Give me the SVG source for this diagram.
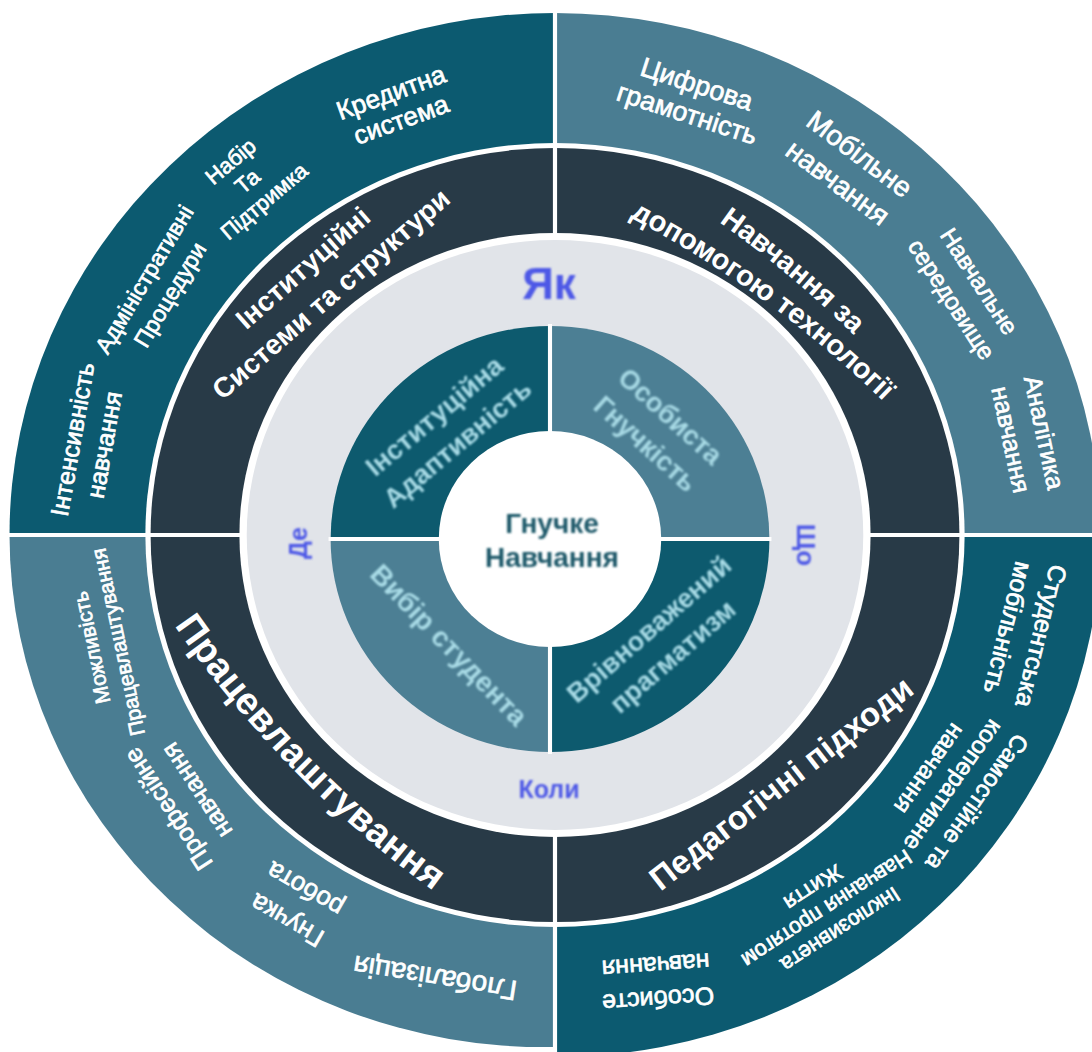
<svg xmlns="http://www.w3.org/2000/svg" width="1092" height="1052" viewBox="0 0 1092 1052">
  <defs>
    <style>
      text { font-family: "Liberation Sans", Arial, sans-serif; dominant-baseline: central; text-anchor: middle; }
      .lbl { fill: #ffffff; stroke: #ffffff; stroke-width: 0.7; font-weight: 400; }
      .band { fill: #ffffff; font-weight: 700; }
      .core { fill: #a9dbe6; font-weight: 700; }
      .ask { fill: #4d58e6; font-weight: 700; }
      .hub { fill: #1e5869; font-weight: 700; }
      .teal { fill: #0c5a70; }
      .slate { fill: #4a7d92; }
      .core-teal { fill: #0d5a6e; }
      .core-slate { fill: #4c7f94; }
    </style>
    <!-- gently curved baselines, local coordinates centred on the label -->
    <path id="arcTop" d="M-320,47.6 A1100,1100 0 0 1 320,47.6"/>
    <path id="arcBot" d="M-320,-47.6 A1100,1100 0 0 0 320,-47.6"/>
    <filter id="soft" x="-20%" y="-20%" width="140%" height="140%">
      <feGaussianBlur stdDeviation="0.8"/>
    </filter>
  </defs>

  <rect width="1092" height="1052" fill="#ffffff"/>

  <!-- outer rings: detail ring, theme ring, question ring -->
  <g id="rings" transform="translate(555,535) scale(1.045,1)">
    <g id="outer-ring">
      <path id="outer-tl" class="teal" d="M0,0 H-522 A522,522 0 0 1 0,-522 Z"/>
      <path id="outer-tr" class="slate" d="M0,0 V-522 A522,522 0 0 1 522,0 Z"/>
      <path id="outer-br" class="teal" d="M0,0 H522 A522,522 0 0 1 0,522 Z"/>
      <path id="outer-bl" class="slate" d="M0,0 V512 A512,512 0 0 1 -522,0 Z"/>
    </g>
    <circle r="392" fill="#ffffff"/>
    <circle id="theme-ring" r="387" fill="#283a47"/>
    <path d="M0,-530 V530 M-530,0 H530" stroke="#ffffff" stroke-width="4"/>
    <circle r="302" fill="#ffffff"/>
    <circle id="question-ring" r="295" fill="#e1e4e9"/>
  </g>

  <!-- inner quarters and hub -->
  <g id="core" transform="translate(550,539) scale(1.03,1)">
    <path id="core-tl" class="core-teal" d="M0,0 H-213 A213,213 0 0 1 0,-213 Z"/>
    <path id="core-tr" class="core-slate" d="M0,0 V-213 A213,213 0 0 1 213,0 Z"/>
    <path id="core-br" class="core-teal" d="M0,0 H213 A213,213 0 0 1 0,213 Z"/>
    <path id="core-bl" class="core-slate" d="M0,0 V213 A213,213 0 0 1 -213,0 Z"/>
    <path d="M0,-215 V215 M-215,0 H215" stroke="#ffffff" stroke-width="4"/>
    <circle id="hub" r="108" fill="#ffffff"/>
  </g>

  <!-- detail labels, top-left quarter -->
  <g id="detail-tl" class="lbl">
    <text transform="translate(396,106) rotate(-20)" font-size="26"><tspan x="0" y="-14.5">Кредитна</tspan><tspan x="0" y="14.5">система</tspan></text>
    <text transform="translate(247,181) rotate(-40)" font-size="22"><tspan x="0" y="-26">Набір</tspan><tspan x="0" y="0">Та</tspan><tspan x="0" y="26">Підтримка</tspan></text>
    <text transform="translate(157,287) rotate(-59)" font-size="23"><tspan x="0" y="-15">Адміністративні</tspan><tspan x="0" y="15">Процедури</tspan></text>
    <text transform="translate(88,442) rotate(-80)" font-size="25"><tspan x="0" y="-16">Інтенсивність</tspan><tspan x="0" y="16">навчання</tspan></text>
  </g>

  <!-- detail labels, top-right quarter -->
  <g id="detail-tr" class="lbl">
    <text transform="translate(692,99) rotate(18)" font-size="27"><tspan x="0" y="-15.5">Цифрова</tspan><tspan x="0" y="15.5">грамотність</tspan></text>
    <text transform="translate(849,168) rotate(37)" font-size="28"><tspan x="0" y="-18">Мобільне</tspan><tspan x="0" y="18">навчання</tspan></text>
    <text transform="translate(966,290) rotate(57)" font-size="24"><tspan x="0" y="-16.5">Навчальне</tspan><tspan x="0" y="16.5">середовище</tspan></text>
    <text transform="translate(1028,436) rotate(78)" font-size="25"><tspan x="0" y="-17">Аналітика</tspan><tspan x="0" y="17">навчання</tspan></text>
  </g>

  <!-- detail labels, bottom-left quarter -->
  <g id="detail-bl" class="lbl">
    <text transform="translate(104,645) rotate(-102)" font-size="21"><tspan x="0" y="-13.5">Можливість</tspan><tspan x="0" y="13.5">Працевлаштування</tspan></text>
    <text transform="translate(182,800) rotate(-123)" font-size="25"><tspan x="0" y="-17">Професійне</tspan><tspan x="0" y="17">навчання</tspan></text>
    <text transform="translate(296,905) rotate(-150)" font-size="26"><tspan x="0" y="-18">Гнучка</tspan><tspan x="0" y="18">робота</tspan></text>
    <text transform="translate(435,978) rotate(-171)" font-size="28">Глобалізація</text>
  </g>

  <!-- detail labels, bottom-right quarter -->
  <g id="detail-br" class="lbl">
    <text transform="translate(1025,632) rotate(104)" font-size="25"><tspan x="0" y="-17">Студентська</tspan><tspan x="0" y="17">мобільність</tspan></text>
    <text transform="translate(954,786) rotate(125)" font-size="24"><tspan x="0" y="-29">Самостійне та</tspan><tspan x="0" y="0">кооперативне</tspan><tspan x="0" y="29">навчання</tspan></text>
    <text transform="translate(827,909) rotate(147)" font-size="22"><tspan x="0" y="-25">Інклюзивнета</tspan><tspan x="0" y="0">Навчання протягом</tspan><tspan x="0" y="25">Життя</tspan></text>
    <text transform="translate(657,983) rotate(176)" font-size="25"><tspan x="0" y="-17">Особисте</tspan><tspan x="0" y="17">навчання</tspan></text>
  </g>

  <!-- theme ring titles -->
  <g id="theme-tl" class="band" font-size="28">
    <text transform="translate(303,268) rotate(-41.3)">Інституційні</text>
    <text transform="translate(331,294) rotate(-41)">Системи та структури</text>
  </g>
  <g id="theme-tr" class="band" font-size="29">
    <text transform="translate(795,268) rotate(40)"><textPath href="#arcTop" startOffset="50%">Навчання за</textPath></text>
    <text transform="translate(769,292) rotate(36)"><textPath href="#arcTop" startOffset="50%">допомогою технології</textPath></text>
  </g>
  <g id="theme-bl" class="band" font-size="38">
    <text transform="translate(302,760) rotate(45.7)"><textPath href="#arcBot" startOffset="50%">Працевлаштування</textPath></text>
  </g>
  <g id="theme-br" class="band" font-size="33">
    <text transform="translate(781,783) rotate(-38)">Педагогічні підходи</text>
  </g>

  <!-- question words -->
  <g id="questions" class="ask" filter="url(#soft)">
    <text x="549" y="283" font-size="44">Як</text>
    <text x="549" y="789" font-size="25">Коли</text>
    <text transform="translate(298,543) rotate(-90)" font-size="25">Де</text>
    <text transform="translate(806,545) rotate(90)" font-size="26">Що</text>
  </g>

  <!-- inner quarter labels -->
  <g id="core-labels" class="core" filter="url(#soft)">
    <text transform="translate(446,430) rotate(-40)" font-size="27"><tspan x="0" y="-18">Інституційна</tspan><tspan x="0" y="18">Адаптивність</tspan></text>
    <text transform="translate(658,430) rotate(42)" font-size="27"><tspan x="0" y="-18.5">Особиста</tspan><tspan x="0" y="18.5">Гнучкість</tspan></text>
    <text transform="translate(449,645) rotate(46)" font-size="28">Вибір студента</text>
    <text transform="translate(661,643) rotate(-41)" font-size="27"><tspan x="0" y="-18">Врівноважений</tspan><tspan x="0" y="18">прагматизм</tspan></text>
  </g>

  <!-- hub title -->
  <g id="hub-label" class="hub" font-size="28" filter="url(#soft)">
    <text x="552" y="523">Гнучке</text>
    <text x="552" y="557">Навчання</text>
  </g>
</svg>
